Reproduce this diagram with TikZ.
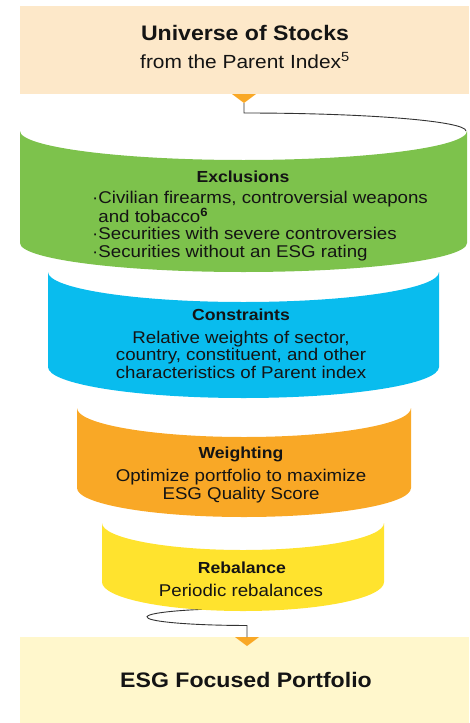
\documentclass[tikz,border=0pt]{standalone}
\usepackage{fontspec}
\setmainfont[FakeStretch=1.1]{Liberation Sans}
\definecolor{topc}{HTML}{FDE8C9}
\definecolor{botc}{HTML}{FFF7CC}
\definecolor{greenc}{HTML}{7DC24C}
\definecolor{bluec}{HTML}{09BCEE}
\definecolor{orangec}{HTML}{F9A826}
\definecolor{yellowc}{HTML}{FFE32E}
\definecolor{txt}{HTML}{141414}
\begin{document}
\begin{tikzpicture}[x=1pt,y=1pt,
  conn/.style={draw=black!80, line width=0.9pt},
  boxc/.style={draw=none, inner sep=0, anchor=north west},
  tri/.style={fill=orangec},
  head/.style={font=\fontsize{16}{17.3}\selectfont\bfseries, anchor=base, inner sep=0, text=txt},
  body/.style={font=\fontsize{17}{17.3}\selectfont, anchor=base, inner sep=0, align=center, text=txt},
  big/.style={font=\fontsize{21}{24}\selectfont\bfseries, anchor=base, inner sep=0, text=txt},
]
\useasboundingbox (0,0) rectangle (469,-723);
% boxes
\node[boxc, fill=topc, minimum width=449pt, minimum height=88pt] (topbox) at (20,-6) {};
\node[boxc, fill=botc, minimum width=449pt, minimum height=86pt] (botbox) at (20,-637) {};
% triangles
\fill[tri] (232,-94) -- (256,-94) -- (244,-103) -- cycle;
\coordinate (tri1tip) at (244,-103);
\fill[tri] (235,-637) -- (259,-637) -- (247,-646) -- cycle;
\coordinate (tri2top) at (247,-637);
% connectors
\coordinate (greenrim) at (466,-131);
\draw[conn] (tri1tip) -- ++(0,-10) arc[start angle=90,end angle=0,x radius=222,y radius=18] -- (greenrim);
\coordinate (loopstart) at (229.6,-608.6);
\draw[conn] (loopstart) arc[start angle=100,end angle=270,x radius=100,y radius=8.5] -- (tri2top);
% bands
\fill[greenc] (20,-131) arc[start angle=180,end angle=360,x radius=223.5,y radius=29] -- (467,-243) arc[start angle=0,end angle=-180,x radius=223.5,y radius=29] -- cycle;
\fill[bluec] (48,-272) arc[start angle=180,end angle=360,x radius=195.5,y radius=30] -- (439,-367) arc[start angle=0,end angle=-180,x radius=195.5,y radius=31] -- cycle;
\fill[orangec] (77,-408) arc[start angle=180,end angle=360,x radius=167,y radius=29] -- (411,-488) arc[start angle=0,end angle=-180,x radius=167,y radius=29] -- cycle;
\fill[yellowc] (102,-523) arc[start angle=180,end angle=360,x radius=141,y radius=27] -- (384,-582) arc[start angle=0,end angle=-180,x radius=141,y radius=29] -- cycle;
% texts
\node[big] (title) at (245,-40) {Universe of Stocks};
\node[body, font=\fontsize{19}{20}\selectfont] (subtitle) at (245,-68) {from the Parent Index\textsuperscript{5}};
\node[head] (exh) at (243,-182) {Exclusions};
\node[body, align=left, anchor=base west] (exb) at (92,-257) {·Civilian firearms, controversial weapons\\\phantom{·}and tobacco\textsuperscript{\bfseries 6}\\·Securities with severe controversies\\·Securities without an ESG rating};
\node[head] (coh) at (241,-320) {Constraints};
\node[body] (cob) at (241,-378) {Relative weights of sector,\\country, constituent, and other\\characteristics of Parent index};
\node[head] (weh) at (241,-458) {Weighting};
\node[body] (web) at (241,-499) {Optimize portfolio to maximize\\ESG Quality Score};
\node[head] (reh) at (242,-573) {Rebalance};
\node[body] (reb) at (241,-596) {Periodic rebalances};
\node[big] (esg) at (246,-687) {ESG Focused Portfolio};
\end{tikzpicture}
\end{document}
